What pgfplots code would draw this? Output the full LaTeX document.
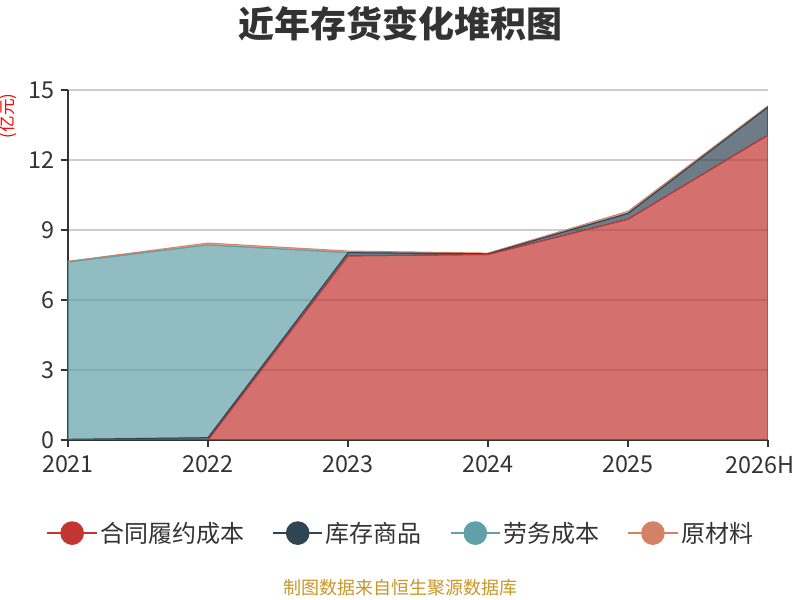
\documentclass[border=0pt]{standalone}
\usepackage{pgfplots}
\pgfplotsset{compat=1.18}
\usepackage{fontspec}
\setmainfont{Noto Sans CJK SC}
\definecolor{cred}{HTML}{C23531}
\definecolor{cdark}{HTML}{2F4554}
\definecolor{cteal}{HTML}{61A0A8}
\definecolor{corange}{HTML}{D48265}
\definecolor{txt}{HTML}{333333}
\begin{document}
\begin{tikzpicture}
\useasboundingbox (0pt,0pt) rectangle (600pt,450pt);
\node[font=\fontsize{27}{31}\selectfont\bfseries, text=txt] at (300pt,432pt) {近年存货变化堆积图};
\node[font=\fontsize{12.5}{14}\selectfont, text=red, rotate=90] at (6pt,363pt) {(亿元)};
\node[font=\fontsize{13.5}{16}\selectfont, text={rgb,255:red,200;green,150;blue,40}] at (300pt,9pt) {制图数据来自恒生聚源数据库};
\begin{axis}[
  at={(51pt,120pt)}, anchor=south west,
  scale only axis, width=525pt, height=262.5pt,
  xmin=0, xmax=5, ymin=0, ymax=15,
  xtick={0,1,2,3,4,5},
  xticklabels={2021,2022,2023,2024,2025,{\hspace*{-12pt}2026H}},
  ytick={0,3,6,9,12,15},
  stack plots=y,
  axis x line*=bottom, axis y line*=left,
  axis line style={txt, line width=1.3pt, -},
  tick style={txt, line width=1pt},
  tick align=outside, major tick length=5.5pt,
  ymajorgrids, grid style={draw={rgb,255:red,204;green,204;blue,204}, line width=1pt},
  ticklabel style={font=\fontsize{17.5}{20}\selectfont, text=txt},
  /pgf/number format/assume math mode=true,
  yticklabel style={xshift=-1pt},
  xticklabel style={yshift=-3pt},
  legend columns=4,
  legend style={at={(0.476,-0.266)}, anchor=center, draw=none, fill=none,
    font=\fontsize{18}{21}\selectfont, text=txt,
    /tikz/every even column/.append style={column sep=19pt}},
  legend image code/.code={
    \draw[#1, line width=1.2pt, draw opacity=1] (0pt,0pt) -- (37pt,0pt);
    \fill[#1, fill opacity=1] (18.5pt,0pt) circle (8.5pt);
  },
]
\addplot[draw=cred, line width=0.75pt, fill=cred, fill opacity=0.7] coordinates {(0,0) (1,0) (2,7.89) (3,7.95) (4,9.46) (5,13.07)} \closedcycle;
\addplot[draw=cdark, line width=0.75pt, fill=cdark, fill opacity=0.7] coordinates {(0,0.03) (1,0.1) (2,0.14) (3,0.03) (4,0.25) (5,1.2)} \closedcycle;
\addplot[draw=cteal, line width=0.75pt, fill=cteal, fill opacity=0.7] coordinates {(0,7.6) (1,8.26) (2,0) (3,0) (4,0) (5,0)} \closedcycle;
\addplot[draw=corange, line width=0.75pt, fill=corange, fill opacity=0.7] coordinates {(0,0.03) (1,0.08) (2,0.07) (3,0.03) (4,0.09) (5,0.05)} \closedcycle;
\legend{合同履约成本,库存商品,劳务成本,原材料}
\end{axis}
\end{tikzpicture}
\end{document}
